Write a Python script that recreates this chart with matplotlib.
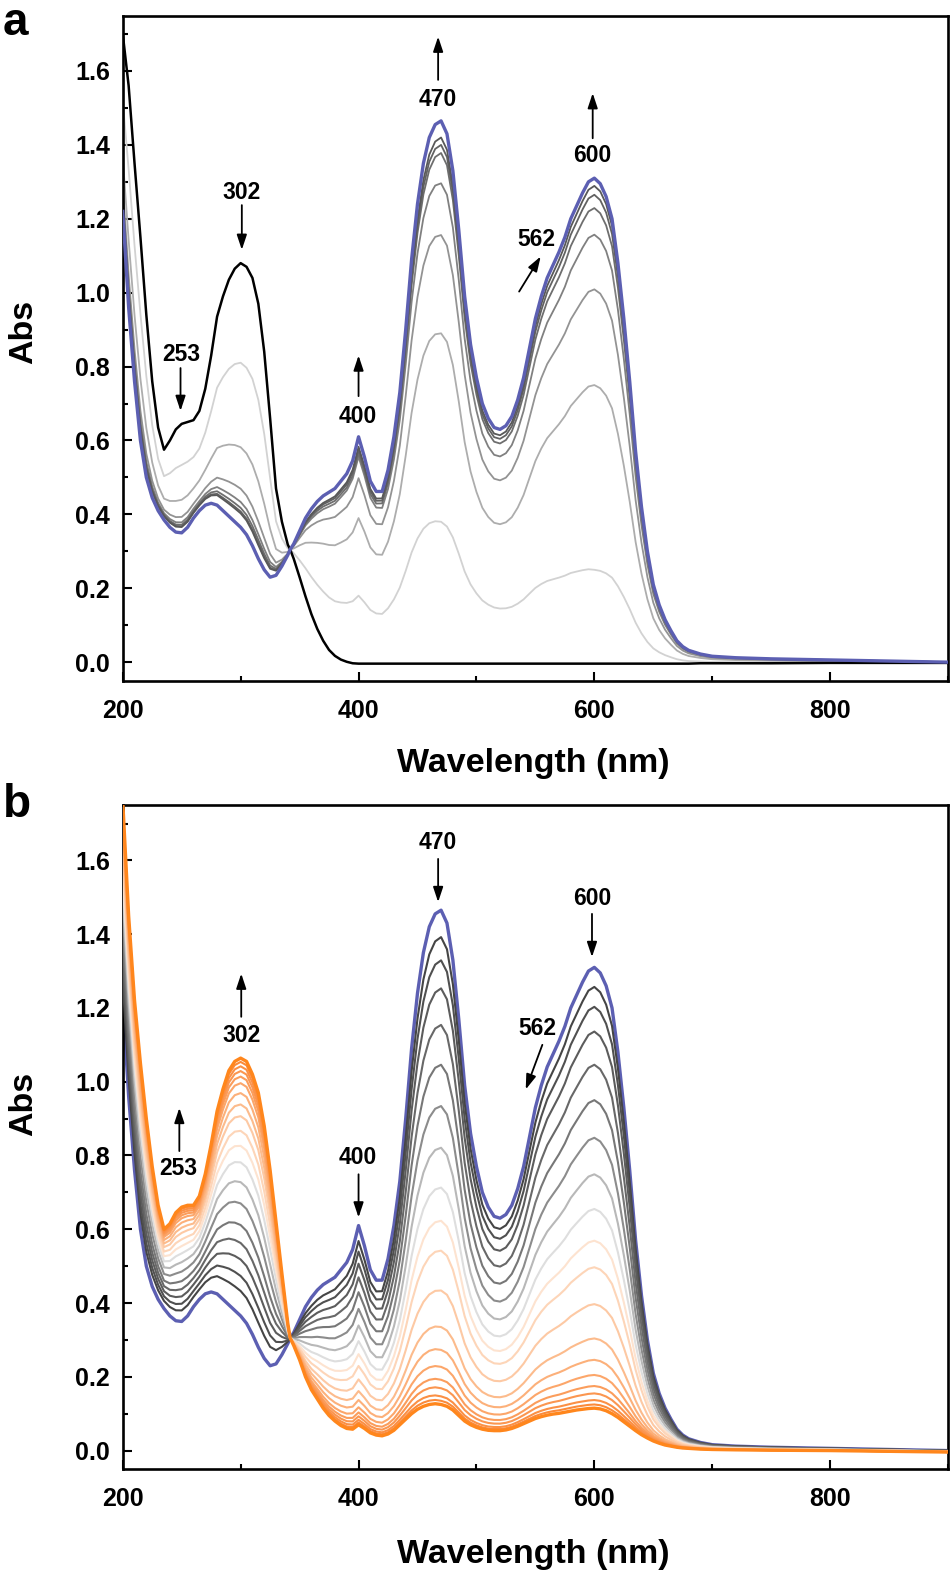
import numpy as np
import matplotlib
matplotlib.use('Agg')
import matplotlib.pyplot as plt
from matplotlib.ticker import MultipleLocator, FormatStrFormatter

plt.rcParams['font.family'] = ['Liberation Sans', 'DejaVu Sans']
plt.rcParams['font.weight'] = 'bold'

# ---------------- data ----------------
WL = [200, 205, 210, 215, 220, 225, 230, 235, 240, 245, 250, 255, 260, 265, 270, 275,
      280, 285, 290, 295, 300, 305, 310, 315, 320, 325, 330, 335, 340, 342, 345, 350,
      355, 360, 365, 370, 375, 380, 385, 390, 395, 400, 405, 410, 415, 420, 425, 430,
      435, 440, 445, 450, 455, 460, 465, 470, 475, 480, 485, 490, 495, 500, 505, 510,
      515, 520, 525, 530, 535, 540, 545, 550, 555, 560, 565, 570, 575, 580, 585, 590,
      595, 600, 605, 610, 615, 620, 625, 630, 635, 640, 645, 650, 655, 660, 665, 670,
      675, 680, 690, 700, 720, 750, 800, 850, 900]

# final spectrum (blue)
BLUE = [1.22, 0.96, 0.76, 0.60, 0.50, 0.445, 0.41, 0.385, 0.365, 0.352, 0.35, 0.365, 0.39, 0.41, 0.425, 0.43,
        0.425, 0.41, 0.395, 0.38, 0.365, 0.345, 0.315, 0.28, 0.25, 0.23, 0.235, 0.26, 0.29, 0.305, 0.32, 0.355,
        0.39, 0.415, 0.435, 0.45, 0.46, 0.47, 0.49, 0.51, 0.545, 0.61, 0.555, 0.49, 0.462, 0.462, 0.52, 0.61,
        0.73, 0.90, 1.09, 1.24, 1.35, 1.42, 1.455, 1.465, 1.43, 1.33, 1.17, 0.99, 0.86, 0.77, 0.70, 0.66,
        0.635, 0.63, 0.64, 0.665, 0.71, 0.77, 0.85, 0.93, 0.99, 1.04, 1.075, 1.11, 1.15, 1.20, 1.235, 1.27,
        1.30, 1.31, 1.295, 1.26, 1.20, 1.08, 0.93, 0.76, 0.57, 0.42, 0.30, 0.21, 0.155, 0.115, 0.085, 0.058,
        0.042, 0.032, 0.022, 0.016, 0.012, 0.009, 0.006, 0.003, 0.0]

# initial spectrum (black, panel a)
BLACK = [1.70, 1.56, 1.35, 1.15, 0.94, 0.76, 0.635, 0.575, 0.60, 0.63, 0.645, 0.65, 0.655, 0.68, 0.74, 0.83,
         0.935, 0.99, 1.035, 1.065, 1.08, 1.07, 1.04, 0.97, 0.84, 0.66, 0.47, 0.38, 0.318, 0.305, 0.28, 0.23,
         0.178, 0.13, 0.09, 0.058, 0.033, 0.017, 0.007, 0.001, -0.003, -0.004, -0.004, -0.004, -0.004, -0.004, -0.004, -0.004,
         -0.004, -0.004, -0.004, -0.004, -0.004, -0.004, -0.004, -0.004, -0.004, -0.004, -0.004, -0.004, -0.004, -0.004, -0.004, -0.004,
         -0.004, -0.004, -0.004, -0.004, -0.004, -0.004, -0.004, -0.004, -0.004, -0.004, -0.004, -0.004, -0.004, -0.004, -0.004, -0.004,
         -0.004, -0.004, -0.004, -0.004, -0.004, -0.004, -0.004, -0.004, -0.004, -0.004, -0.004, -0.004, -0.004, -0.004, -0.004, -0.004,
         -0.004, -0.004, -0.003, -0.003, -0.003, -0.003, -0.002, -0.002, -0.002]

# final spectrum of panel b (orange)
ORANGE = [1.76, 1.45, 1.22, 1.05, 0.90, 0.77, 0.665, 0.60, 0.615, 0.645, 0.66, 0.665, 0.665, 0.69, 0.75, 0.83,
          0.92, 0.98, 1.03, 1.055, 1.064, 1.055, 1.02, 0.97, 0.88, 0.76, 0.62, 0.48, 0.345, 0.305, 0.285, 0.246,
          0.20, 0.165, 0.14, 0.115, 0.095, 0.08, 0.068, 0.06, 0.058, 0.07, 0.06, 0.048, 0.042, 0.04, 0.045, 0.055,
          0.07, 0.085, 0.10, 0.112, 0.12, 0.125, 0.127, 0.125, 0.12, 0.11, 0.095, 0.08, 0.07, 0.063, 0.058, 0.055,
          0.054, 0.054, 0.056, 0.06, 0.066, 0.073, 0.08, 0.087, 0.092, 0.096, 0.099, 0.101, 0.104, 0.107, 0.11, 0.112,
          0.114, 0.115, 0.113, 0.108, 0.10, 0.09, 0.078, 0.066, 0.054, 0.043, 0.034, 0.026, 0.02, 0.015, 0.012, 0.009,
          0.007, 0.006, 0.004, 0.003, 0.002, 0.001, 0.0, -0.002, -0.004]

# panel a intermediate spectra: absorbance read at 302, 400, 470, 600 nm
A_302 = [0.805, 0.575, 0.462, 0.426, 0.41, 0.40, 0.395]
A_400 = [0.18, 0.39, 0.498, 0.556, 0.565, 0.575, 0.583]
A_470 = [0.38, 0.89, 1.156, 1.296, 1.378, 1.40, 1.42]
A_600 = [0.25, 0.75, 1.009, 1.157, 1.229, 1.265, 1.289]
A_COLORS = ['#d2d2d2', '#adadad', '#939393', '#808080', '#6e6e6e', '#626262', '#585858']

# panel b intermediate spectra: absorbance read at 302, 470, 600 nm
B_302 = [0.425, 0.466, 0.511, 0.556, 0.605, 0.664, 0.722, 0.776, 0.821, 0.862, 0.902, 0.934,
         0.965, 0.992, 1.010, 1.025, 1.038, 1.050]
B_470 = [1.392, 1.329, 1.253, 1.154, 1.046, 0.934, 0.821, 0.713, 0.623, 0.542, 0.434, 0.335,
         0.273, 0.227, 0.192, 0.169, 0.147, 0.135]
B_600 = [1.257, 1.203, 1.136, 1.046, 0.950, 0.848, 0.749, 0.655, 0.569, 0.497, 0.397, 0.304,
         0.246, 0.205, 0.175, 0.155, 0.137, 0.125]
B_COLORS = ['#454545', '#505050', '#5c5c5c', '#686868', '#777777', '#8c8c8c', '#b8b8b8', '#dedede',
            '#fde3d0', '#fdd5b8', '#fdc9a4', '#fcbb8c', '#fcb07a', '#fca66a', '#fb9d5c', '#fb9650',
            '#fb9045', '#fb8a3a']

BLUE_C = '#5c5fb2'
ORANGE_C = '#ff861c'

# annotations: (label, text_x, text_y, arrow_tail, arrow_head)
ANN_A = [('253', 250, 0.832, (249, 0.796), (249, 0.68)),
         ('302', 301, 1.270, (301, 1.237), (301, 1.116)),
         ('400', 399.5, 0.665, (400, 0.72), (400, 0.83)),
         ('470', 467, 1.524, (467.5, 1.576), (467.5, 1.693)),
         ('600', 598, 1.370, (598.6, 1.418), (598.6, 1.54)),
         ('562', 551, 1.143, (536.2, 1.003), (554.5, 1.098))]
ANN_B = [('470', 467, 1.649, (467.5, 1.604), (467.5, 1.487)),
         ('600', 598, 1.496, (598, 1.455), (598, 1.338)),
         ('562', 551.4, 1.145, (555.9, 1.100), (541.8, 0.979)),
         ('302', 300.8, 1.125, (300.5, 1.176), (300.5, 1.293)),
         ('253', 247.5, 0.765, (248, 0.812), (248, 0.929)),
         ('400', 399, 0.794, (400, 0.749), (400, 0.632))]

# ---------------- build ----------------
wl = np.array(WL, float)
blue = np.array(BLUE)
black = np.array(BLACK)
orange = np.array(ORANGE)
assert len(wl) == len(blue) == len(black) == len(orange)

ISO = 342.0


def mix(base, final, anchors, values):
    """spectrum between base and final, using absorbances read at anchor wavelengths"""
    fr = []
    for w, v in zip(anchors, values):
        b0 = np.interp(w, wl, base)
        b1 = np.interp(w, wl, final)
        fr.append((v - b0) / (b1 - b0))
    f_uv = fr[0]
    vis_w = [ISO] + list(anchors[1:])
    vis_f = [f_uv] + fr[1:]
    f = np.interp(wl, vis_w, vis_f)
    f = np.where(wl <= ISO, f_uv, f)
    return base + f * (final - base)


fig = plt.figure(figsize=(9.53, 15.73), dpi=100)
ax_a = fig.add_axes([0.1288, 0.5673, 0.8660, 0.4228])
ax_b = fig.add_axes([0.1288, 0.0661, 0.8660, 0.4221])

# panel a
ax_a.plot(wl, black, color='black', lw=1.8, zorder=3)
for i in range(len(A_470)):
    y = mix(black, blue, [302, 400, 470, 600], [A_302[i], A_400[i], A_470[i], A_600[i]])
    ax_a.plot(wl, y, color=A_COLORS[i], lw=1.3, zorder=2)
ax_a.plot(wl, blue, color=BLUE_C, lw=2.4, zorder=4)

# panel b
ax_b.plot(wl, blue, color=BLUE_C, lw=2.4, zorder=2)
for i in range(len(B_470)):
    y = mix(orange, blue, [302, 470, 600], [B_302[i], B_470[i], B_600[i]])
    ax_b.plot(wl, y, color=B_COLORS[i], lw=1.5, zorder=3)
ax_b.plot(wl, orange, color=ORANGE_C, lw=2.4, zorder=4)

for ax, ann in ((ax_a, ANN_A), (ax_b, ANN_B)):
    ax.set_xlim(200, 900)
    ax.set_ylim(-0.05, 1.75)
    ax.xaxis.set_major_locator(MultipleLocator(200))
    ax.xaxis.set_minor_locator(MultipleLocator(100))
    ax.yaxis.set_major_locator(MultipleLocator(0.2))
    ax.yaxis.set_minor_locator(MultipleLocator(0.1))
    ax.yaxis.set_major_formatter(FormatStrFormatter('%.1f'))
    ax.tick_params(which='both', direction='in', top=False, right=False, width=1.5)
    ax.tick_params(which='major', length=6.8, labelsize=18)
    ax.tick_params(axis='y', which='major', pad=9)
    ax.tick_params(axis='x', which='major', pad=13)
    ax.tick_params(which='minor', length=3.6)
    for s in ax.spines.values():
        s.set_linewidth(1.9)
    ax.set_xlabel('Wavelength (nm)', fontsize=24.5, fontweight='bold')
    ax.set_ylabel('Abs', fontsize=24.5, fontweight='bold')
    for lab, tx, ty, tail, head in ann:
        ax.text(tx, ty, lab, fontsize=16.5, fontweight='bold', ha='center', va='center', zorder=6)
        ax.annotate('', xy=head, xytext=tail,
                    arrowprops=dict(arrowstyle='-|>,head_length=0.9,head_width=0.3',
                                    mutation_scale=10, lw=1.3, color='black',
                                    shrinkA=0, shrinkB=0), zorder=6)

ax_a.xaxis.set_label_coords(0.497, -0.102)
ax_b.xaxis.set_label_coords(0.497, -0.106)
ax_a.yaxis.set_label_coords(-0.101, 0.525)
ax_b.yaxis.set_label_coords(-0.101, 0.55)

fig.text(0.003, 1 - 35 / 1573, 'a', fontsize=33, fontweight='bold', va='baseline', ha='left')
fig.text(0.003, 1 - 817 / 1573, 'b', fontsize=33, fontweight='bold', va='baseline', ha='left')

fig.savefig('out.png', dpi=100)
